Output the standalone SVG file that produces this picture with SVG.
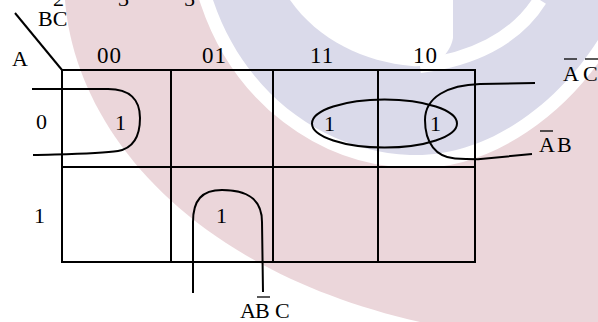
<svg xmlns="http://www.w3.org/2000/svg" width="598" height="322" viewBox="0 0 598 322">
<style>
.t{font-family:'Liberation Serif','Times New Roman',serif;font-size:22px;fill:#000}
.h{font-size:23px;letter-spacing:1px}
.ln{stroke:#000;stroke-width:2;fill:none}
.lp{stroke:#000;stroke-width:2;fill:none}
.bar{stroke:#000;stroke-width:1.3}
</style>
<rect width="598" height="322" fill="#fff"/>
<g id="watermark">
<path d="M65,0 C75,130 190,270 420,322 L598,322 L598,0 Z" fill="#ebd6da"/>
<path d="M213,0 C245,95 325,152 410,155 C490,158 560,100 598,40 L598,0 Z" fill="#dadaea" stroke="#fff" stroke-width="26" paint-order="stroke"/>
<path d="M290,0 C318,40 365,62 412,66 C435,68 450,55 453,38 L453,0 Z" fill="#fff"/>
<path d="M420,66 C470,60 515,40 540,0" fill="none" stroke="#fff" stroke-width="14"/>
</g>
<g id="top-text">
<text class="t" x="53" y="6">2</text>
<text class="t" x="118" y="6">3</text>
<text class="t" x="184" y="6">5</text>
</g>
<g id="grid">
<rect x="62" y="70" width="413" height="192" class="ln"/>
<line x1="62" y1="167" x2="475" y2="167" class="ln"/>
<line x1="171" y1="70" x2="171" y2="262" class="ln"/>
<line x1="273" y1="70" x2="273" y2="262" class="ln"/>
<line x1="378" y1="70" x2="378" y2="262" class="ln"/>
<line x1="15" y1="13" x2="62" y2="70" class="ln"/>
</g>
<g id="headers">
<text class="t" x="38" y="26">BC</text>
<text class="t" x="12" y="66">A</text>
<text class="t h" x="97" y="63">00</text>
<text class="t h" x="202" y="63">01</text>
<text class="t h" x="310" y="63">11</text>
<text class="t h" x="413" y="63">10</text>
<text class="t" x="36" y="129">0</text>
<text class="t" x="34" y="223">1</text>
</g>
<g id="cells">
<text class="t" x="115" y="130">1</text>
<text class="t" x="324" y="131">1</text>
<text class="t" x="430" y="131">1</text>
<text class="t" x="216" y="223">1</text>
</g>
<g id="connectors">
<path class="lp" d="M32,89 L108,89 C130,89 140,100 140,118 C140,136 134,148 118,151 C100,154 70,154 33,155"/>
<ellipse class="lp" cx="384.5" cy="123.5" rx="72.5" ry="24"/>
<path class="lp" d="M535,83 L480,84 C448,85 425,97 425,120 C425,143 436,157 455,158.5 C465,159.3 470,159.3 478,159.3 L532,154"/>
<path class="lp" d="M193,293 L193,222 C193,200 202,190 222,190 C246,190 262,198 262,222 L263,292"/>
</g>
<g id="terms">
<text class="t" x="563" y="81">A</text>
<text class="t" x="583" y="81">C</text>
<line class="bar" x1="564" y1="59" x2="577" y2="59"/>
<line class="bar" x1="585" y1="59" x2="598" y2="59"/>
<text class="t" x="539" y="152">A</text>
<text class="t" x="557" y="152">B</text>
<line class="bar" x1="540" y1="131" x2="553" y2="131"/>
<text class="t" x="240" y="318">A</text>
<text class="t" x="255" y="318">B</text>
<text class="t" x="275" y="318">C</text>
<line class="bar" x1="257" y1="297" x2="270" y2="297"/>
</g>
</svg>
